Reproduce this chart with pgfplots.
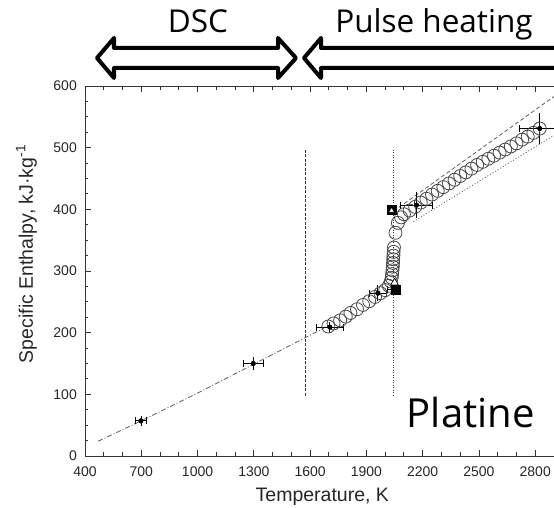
\documentclass[border=0pt]{standalone}
\usepackage{fontspec}
\setmainfont{Liberation Sans}
\newfontfamily\osans{Open Sans}
\usepackage{pgfplots}
\pgfplotsset{compat=1.18}
\definecolor{axgray}{HTML}{333333}
\definecolor{circgray}{HTML}{474747}
\definecolor{lngray}{HTML}{5E5E5E}
\pgfplotstableread{
x y ex ey
698 57 27 3
1297 150 53 6
1705 209 71 4
1961 264 43 8
2045 270 35 0
2167 407 87 16
2824 531 110 20
}\errtable
\begin{document}
\begin{tikzpicture}[x=1pt,y=1pt]
\useasboundingbox (-85,-52) rectangle (469,456);
\begin{axis}[
  at={(0,0)}, anchor=south west,
  scale only axis, width=469pt, height=370pt,
  xmin=400, xmax=2900, ymin=0, ymax=600,
  axis x line*=box, axis y line*=left,
  axis line style={axgray, line width=0.9pt},
  every tick/.style={axgray, line width=0.9pt},
  xtick={400,700,...,2800}, ytick={0,100,...,600},
  minor x tick num=2, minor y tick num=3,
  tick align=inside,
  major tick length=6pt, minor tick length=3.5pt,
  /pgf/number format/assume math mode=true,
  /pgf/number format/set thousands separator={},
  ticklabel style={font=\fontsize{14}{16}\selectfont, text=black!85},
  xticklabel style={anchor=north, inner sep=0pt, yshift=-11pt},
  yticklabel style={anchor=east, inner sep=0pt, xshift=-8pt},
  xlabel={Temperature, K},
  ylabel={Specific Enthalpy, kJ·kg\textsuperscript{-1}},
  label style={font=\fontsize{19.5}{22}\selectfont, text=black!85},
  xlabel style={at={(axis description cs:0.506,-0.1243)}, anchor=base},
  ylabel style={at={(axis description cs:-0.1109,0.546)}, anchor=base},
  clip=true,
]
% DSC fit (dash-dot)
\addplot[lngray, line width=0.8pt, dash pattern=on 5pt off 2pt on 1pt off 2pt] coordinates {
(470,24) (700,57) (1000,102) (1300,149) (1600,196) (1690,210)};
% upper liquid bound (dashed)
\addplot[lngray, line width=0.8pt, dash pattern=on 4pt off 2.5pt] coordinates {(2045,397) (2900,583)};
% lower liquid bound (dotted)
\addplot[lngray, line width=0.8pt, dash pattern=on 1pt off 2pt] coordinates {(2150,380) (2900,520)};
% vertical lines
\addplot[axgray, line width=0.8pt, dash pattern=on 3pt off 1.5pt] coordinates {(1576,98) (1576,497)};
\addplot[axgray, line width=0.8pt, dash pattern=on 1pt off 1.5pt] coordinates {(2046,98) (2046,497)};
% pulse heating data (open circles)
\addplot[only marks, mark=o, mark size=6.5pt, circgray, mark options={line width=0.8pt}] coordinates {
(1697,210) (1725,215) (1760,220) (1790,226) (1815,232) (1850,238) (1882,245) (1915,251) (1946,258) (1975,264) (2000,269) (2020,276)
(2030,283) (2035,289) (2037,295) (2039,301) (2041,307) (2042,313) (2043,319) (2044,325) (2045,331) (2047,338)
(2055,362) (2068,378) (2085,387) (2100,392) (2130,398) (2160,404) (2190,411) (2220,417) (2250,424) (2280,430) (2310,436)
(2340,442) (2370,448) (2400,454) (2430,460) (2460,466) (2490,472) (2520,477) (2550,482) (2580,487) (2610,492) (2640,497)
(2670,502) (2700,507) (2730,513) (2760,518) (2790,524) (2824,531)};
% horizontal error bars with vertical caps
\addplot[black, line width=0.8pt, only marks, mark=none,
  error bars/.cd, x dir=both, x explicit, error mark=|,
  error bar style={black, line width=0.8pt},
  error mark options={black, mark size=3.5pt, line width=0.8pt}]
  table[x=x, y=y, x error=ex] {\errtable};
% vertical error bars with horizontal caps
\addplot[black, line width=0.8pt, only marks, mark=none,
  error bars/.cd, y dir=both, y explicit, error mark=-,
  error bar style={black, line width=0.8pt},
  error mark options={black, mark size=3pt, line width=0.8pt}]
  table[x=x, y=y, y error=ey] {\errtable};
% filled squares
\addplot[only marks, mark=square*, mark size=4.3pt, black] coordinates {(2055,270) (2034,399)};
% open triangles
\addplot[only marks, mark=triangle*, mark size=4.5pt, draw=black, fill=white, mark options={line width=0.7pt}] coordinates {(2050,281)};
\addplot[only marks, mark=triangle*, mark size=3.5pt, draw=black, fill=white, mark options={line width=0.7pt}] coordinates {(2034,398)};
\end{axis}
% arrows and annotations (image px -> (X-85, 456-Y))
\begin{scope}[line width=4pt, line join=round]
\draw (12,398) -- (29,418) -- (29,408) -- (193,408) -- (193,418) -- (211,398) -- (193,378) -- (193,388) -- (29,388) -- (29,378) -- cycle;
\draw (219,398) -- (236,418) -- (236,408) -- (480,408) -- (480,388) -- (236,388) -- (236,378) -- cycle;
\end{scope}
\node[font=\osans\fontsize{31.5}{34}\selectfont, anchor=base, inner sep=0pt] at (113,423) {DSC};
\node[font=\osans\fontsize{31.5}{34}\selectfont, anchor=base, inner sep=0pt] at (349,423) {Pulse heating};
\node[font=\osans\fontsize{40}{44}\selectfont, anchor=base west, inner sep=0pt] at (321.7,28) {Platine};
\end{tikzpicture}
\end{document}
